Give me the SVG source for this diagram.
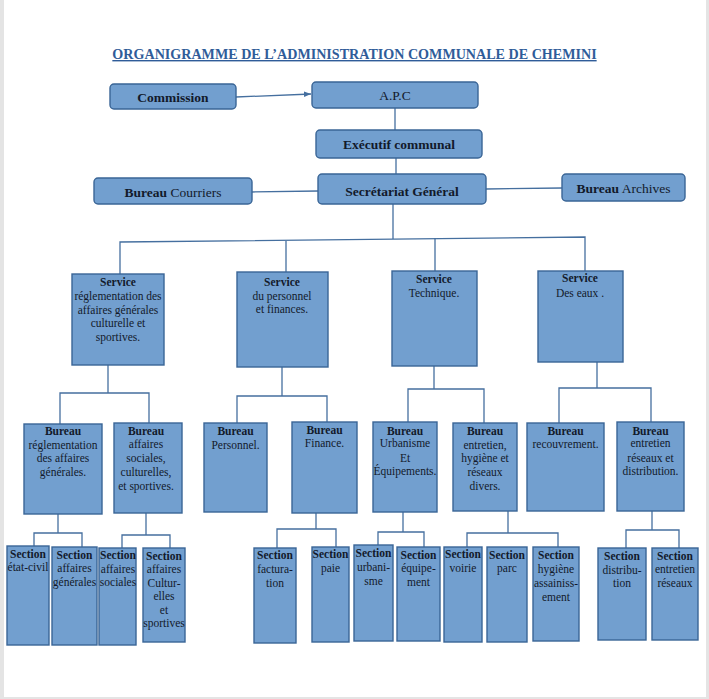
<svg xmlns="http://www.w3.org/2000/svg" width="709" height="699" viewBox="0 0 709 699">
<style>
.box{fill:#729fcf;stroke:#3a6596;stroke-width:1.4}
.t{font-family:"Liberation Serif","Times New Roman",serif;font-size:11.5px;fill:#121a2b;text-anchor:middle}
.tt{font-family:"Liberation Serif","Times New Roman",serif;font-size:13.5px;fill:#121a2b;text-anchor:middle}
.b{font-weight:bold}
.c{fill:none;stroke:#456f9f;stroke-width:1.3}
</style>
<defs>
<marker id="arr" viewBox="0 0 10 10" refX="10" refY="5" markerWidth="7" markerHeight="7" orient="auto" markerUnits="userSpaceOnUse">
<path d="M0,1 L10,5 L0,9 Z" fill="#456f9f"/>
</marker>
</defs>
<rect x="0" y="0" width="709" height="699" fill="#e4e4e4"/>
<rect x="4" y="0" width="702" height="697" fill="#ffffff"/>
<text x="354.5" y="59" font-family="Liberation Serif,Times New Roman,serif" font-size="14.1" font-weight="bold" fill="#2f5c99" text-anchor="middle" text-decoration="underline">ORGANIGRAMME DE L’ADMINISTRATION COMMUNALE DE CHEMINI</text>

<g id="connectors">
<line class="c" x1="236" y1="97" x2="311" y2="94" marker-end="url(#arr)"/>
<line class="c" x1="395" y1="108" x2="395" y2="131"/>
<line class="c" x1="396" y1="158" x2="396" y2="174"/>
<line class="c" x1="252" y1="192" x2="318" y2="191"/>
<line class="c" x1="486" y1="189" x2="562" y2="188"/>
<line class="c" x1="393" y1="204" x2="393" y2="239"/>
<polyline class="c" points="120,274 120,242 585,237 585,271"/>
<line class="c" x1="286" y1="241" x2="286" y2="272"/>
<line class="c" x1="435" y1="238" x2="435" y2="271"/>
<polyline class="c" points="108,365 108,393"/>
<polyline class="c" points="60,424 60,393 149,393 149,423"/>
<polyline class="c" points="282,367 282,396"/>
<polyline class="c" points="237,423 237,396 327,396 327,422"/>
<polyline class="c" points="434,366 434,389"/>
<polyline class="c" points="408,422 408,389 484,389 484,423"/>
<polyline class="c" points="597,362 597,388"/>
<polyline class="c" points="559,423 559,388 651,388 651,422"/>
<polyline class="c" points="58,514 58,533"/>
<polyline class="c" points="34,546 34,533 82,533 82,547"/>
<polyline class="c" points="146,513 146,535"/>
<polyline class="c" points="122,548 122,535 170,535 170,548"/>
<polyline class="c" points="316,513 316,529"/>
<polyline class="c" points="277,548 277,529 336,529 336,547"/>
<polyline class="c" points="403,512 403,532"/>
<polyline class="c" points="378,545 378,532 424,532 424,547"/>
<polyline class="c" points="508,511 508,533"/>
<polyline class="c" points="467,547 467,533 558,533 558,547"/>
<polyline class="c" points="652,511 652,530"/>
<polyline class="c" points="626,548 626,530 679,530 679,548"/>
</g>

<g id="commission"><rect class="box" x="110" y="84" width="126" height="25" rx="4"/><text class="tt b" x="173" y="102">Commission</text></g>
<g id="apc"><rect class="box" x="312" y="82" width="166" height="26" rx="4"/><text class="tt" x="395" y="100">A.P.C</text></g>
<g id="executif"><rect class="box" x="316" y="130" width="166" height="28" rx="4"/><text class="tt b" x="399" y="149" font-size="14">Exécutif communal</text></g>
<g id="secretariat"><rect class="box" x="318" y="174" width="168" height="30" rx="4"/><text class="tt b" x="402" y="196" font-size="14">Secrétariat Général</text></g>
<g id="courriers"><rect class="box" x="94" y="178" width="158" height="26" rx="4"/><text class="tt" x="173" y="197"><tspan font-weight="bold">Bureau</tspan> Courriers</text></g>
<g id="archives"><rect class="box" x="562" y="174" width="123" height="27" rx="4"/><text class="tt" x="623.5" y="193"><tspan font-weight="bold">Bureau</tspan> Archives</text></g>

<g id="service1"><rect class="box" x="72" y="274" width="92" height="91"/>
<text class="t b" x="118" y="286">Service</text>
<text class="t" x="118" y="300">réglementation des</text>
<text class="t" x="118" y="314">affaires générales</text>
<text class="t" x="118" y="327">culturelle et</text>
<text class="t" x="118" y="341">sportives.</text></g>
<g id="service2"><rect class="box" x="237" y="272" width="91" height="95"/>
<text class="t b" x="282" y="286">Service</text>
<text class="t" x="282" y="300">du personnel</text>
<text class="t" x="282" y="313">et finances.</text></g>
<g id="service3"><rect class="box" x="392" y="271" width="85" height="95"/>
<text class="t b" x="434" y="283">Service</text>
<text class="t" x="434" y="297">Technique.</text></g>
<g id="service4"><rect class="box" x="538" y="271" width="85" height="91"/>
<text class="t b" x="580" y="282">Service</text>
<text class="t" x="580" y="297">Des eaux .</text></g>

<g id="bureauA"><rect class="box" x="24" y="424" width="78" height="90"/>
<text class="t b" x="63" y="435">Bureau</text>
<text class="t" x="63" y="449">réglementation</text>
<text class="t" x="63" y="462">des affaires</text>
<text class="t" x="63" y="476">générales.</text></g>
<g id="bureauB"><rect class="box" x="114" y="423" width="68" height="90"/>
<text class="t b" x="146" y="435">Bureau</text>
<text class="t" x="146" y="448">affaires</text>
<text class="t" x="146" y="462">sociales,</text>
<text class="t" x="146" y="476">culturelles,</text>
<text class="t" x="146" y="490">et sportives.</text></g>
<g id="bureauC"><rect class="box" x="204" y="423" width="63" height="89"/>
<text class="t b" x="235.5" y="435">Bureau</text>
<text class="t" x="235.5" y="449">Personnel.</text></g>
<g id="bureauD"><rect class="box" x="292" y="422" width="65" height="91"/>
<text class="t b" x="324.5" y="434">Bureau</text>
<text class="t" x="324.5" y="447">Finance.</text></g>
<g id="bureauE"><rect class="box" x="373" y="422" width="64" height="90"/>
<text class="t b" x="405" y="435">Bureau</text>
<text class="t" x="405" y="447">Urbanisme</text>
<text class="t" x="405" y="462">Et</text>
<text class="t" x="405" y="475">Équipements.</text></g>
<g id="bureauF"><rect class="box" x="453" y="423" width="64" height="88"/>
<text class="t b" x="485" y="435">Bureau</text>
<text class="t" x="485" y="449">entretien,</text>
<text class="t" x="485" y="462">hygiène et</text>
<text class="t" x="485" y="476">réseaux</text>
<text class="t" x="485" y="490">divers.</text></g>
<g id="bureauG"><rect class="box" x="527" y="423" width="77" height="88"/>
<text class="t b" x="565.5" y="435">Bureau</text>
<text class="t" x="565.5" y="448">recouvrement.</text></g>
<g id="bureauH"><rect class="box" x="617" y="422" width="67" height="89"/>
<text class="t b" x="650.5" y="435">Bureau</text>
<text class="t" x="650.5" y="447">entretien</text>
<text class="t" x="650.5" y="462">réseaux et</text>
<text class="t" x="650.5" y="475">distribution.</text></g>

<g id="section1"><rect class="box" x="7" y="546" width="42" height="99"/>
<text class="t b" x="28" y="558">Section</text>
<text class="t" x="28" y="571">état-civil</text></g>
<g id="section2"><rect class="box" x="52" y="547" width="45" height="98"/>
<text class="t b" x="74.5" y="559">Section</text>
<text class="t" x="74.5" y="572">affaires</text>
<text class="t" x="74.5" y="586">générales</text></g>
<g id="section3"><rect class="box" x="99" y="548" width="37" height="97"/>
<text class="t b" x="118" y="559">Section</text>
<text class="t" x="118" y="573">affaires</text>
<text class="t" x="118" y="586">sociales</text></g>
<g id="section4"><rect class="box" x="143" y="548" width="42" height="94"/>
<text class="t b" x="164" y="560">Section</text>
<text class="t" x="164" y="573">affaires</text>
<text class="t" x="164" y="587">Cultur-</text>
<text class="t" x="164" y="600">elles</text>
<text class="t" x="164" y="614">et</text>
<text class="t" x="164" y="627">sportives</text></g>
<g id="section5"><rect class="box" x="254" y="548" width="42" height="95"/>
<text class="t b" x="275" y="559">Section</text>
<text class="t" x="275" y="573">factura-</text>
<text class="t" x="275" y="587">tion</text></g>
<g id="section6"><rect class="box" x="312" y="547" width="37" height="95"/>
<text class="t b" x="330.5" y="558">Section</text>
<text class="t" x="330.5" y="572">paie</text></g>
<g id="section7"><rect class="box" x="354" y="545" width="39" height="96"/>
<text class="t b" x="373.5" y="557">Section</text>
<text class="t" x="373.5" y="571">urbani-</text>
<text class="t" x="373.5" y="585">sme</text></g>
<g id="section8"><rect class="box" x="397" y="547" width="43" height="94"/>
<text class="t b" x="418.5" y="559">Section</text>
<text class="t" x="418.5" y="572">équipe-</text>
<text class="t" x="418.5" y="586">ment</text></g>
<g id="section9"><rect class="box" x="444" y="547" width="38" height="95"/>
<text class="t b" x="463" y="558">Section</text>
<text class="t" x="463" y="572">voirie</text></g>
<g id="section10"><rect class="box" x="487" y="547" width="40" height="95"/>
<text class="t b" x="507" y="559">Section</text>
<text class="t" x="507" y="572">parc</text></g>
<g id="section11"><rect class="box" x="533" y="547" width="46" height="94"/>
<text class="t b" x="556" y="559">Section</text>
<text class="t" x="556" y="573">hygiène</text>
<text class="t" x="556" y="587">assainiss-</text>
<text class="t" x="556" y="601">ement</text></g>
<g id="section12"><rect class="box" x="598" y="548" width="48" height="92"/>
<text class="t b" x="622" y="560">Section</text>
<text class="t" x="622" y="574">distribu-</text>
<text class="t" x="622" y="587">tion</text></g>
<g id="section13"><rect class="box" x="652" y="548" width="46" height="92"/>
<text class="t b" x="675" y="560">Section</text>
<text class="t" x="675" y="573">entretien</text>
<text class="t" x="675" y="587">réseaux</text></g>
</svg>
